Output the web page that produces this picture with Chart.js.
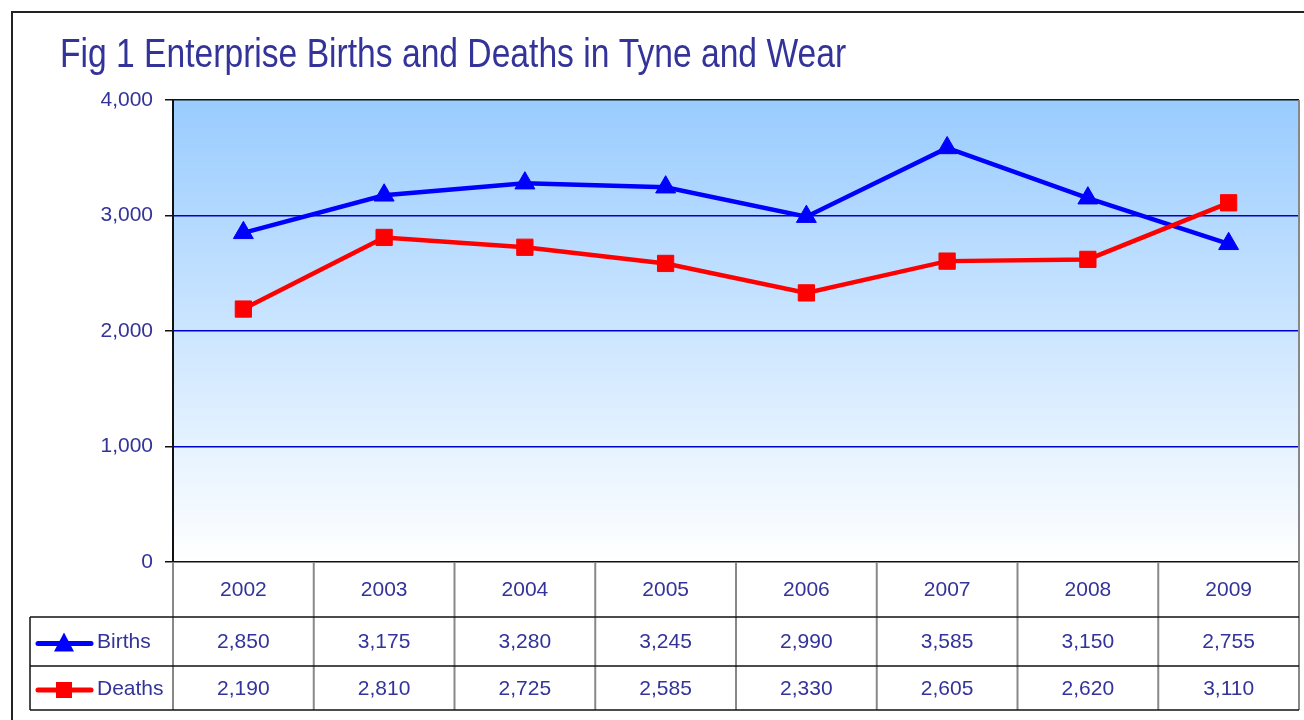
<!DOCTYPE html>
<html>
<head>
<meta charset="utf-8">
<title>Fig 1 Enterprise Births and Deaths in Tyne and Wear</title>
<script src="https://cdn.jsdelivr.net/npm/chart.js@4.4.1/dist/chart.umd.min.js"></script>
<style>
    html, body { margin: 0; padding: 0; background: #fff; }
    canvas { display: block; }
</style>
</head>
<body>
<canvas id="tyneWearChart" width="1304" height="720"></canvas>
<script>
// 数据
const years = ['2002', '2003', '2004', '2005', '2006', '2007', '2008', '2009'];
const births = [2850, 3175, 3280, 3245, 2990, 3585, 3150, 2755];
const deaths = [2190, 2810, 2725, 2585, 2330, 2605, 2620, 3110];
const yTicks = [0, 1000, 2000, 3000, 4000];
const chartTitle = 'Fig 1 Enterprise Births and Deaths in Tyne and Wear';

const textColor = '#333399';
const baseFont = '"Liberation Sans", Arial, sans-serif';

function fmt(v) {
    return v.toLocaleString('en-US');
}

// 背景 + 渐变 + 外框 + 标题
const backdropPlugin = {
    id: 'backdrop',
    beforeDraw(chart) {
        const { ctx, chartArea: a } = chart;
        ctx.save();
        ctx.fillStyle = '#fff';
        ctx.fillRect(0, 0, chart.width, chart.height);

        const grad = ctx.createLinearGradient(0, a.top, 0, a.bottom);
        grad.addColorStop(0, '#99ccff');
        grad.addColorStop(1, '#ffffff');
        ctx.fillStyle = grad;
        ctx.fillRect(a.left, a.top, a.right - a.left, a.bottom - a.top);
        ctx.restore();
    },
    afterDraw(chart) {
        const { ctx } = chart;
        ctx.save();
        // 外框 (上, 左)
        ctx.strokeStyle = '#222';
        ctx.lineWidth = 2;
        ctx.beginPath();
        ctx.moveTo(12, chart.height);
        ctx.lineTo(12, 12);
        ctx.lineTo(chart.width, 12);
        ctx.stroke();

        // 标题 (窄体)
        ctx.fillStyle = textColor;
        ctx.font = '41px ' + baseFont;
        ctx.textBaseline = 'alphabetic';
        ctx.translate(60, 67);
        ctx.scale(0.82, 1);
        ctx.fillText(chartTitle, 0, 0);
        ctx.restore();
    }
};

// 数据表
const dataTablePlugin = {
    id: 'dataTable',
    afterDraw(chart) {
        const { ctx, chartArea: a } = chart;
        const xScale = chart.scales.x;
        const colW = (a.right - a.left) / years.length;
        const rowCat = a.bottom + 55;
        const rowMid = rowCat + 49;
        const rowEnd = rowMid + 44;
        const tableLeft = 30;

        ctx.save();
        // 灰色竖线
        ctx.strokeStyle = '#888';
        ctx.lineWidth = 2;
        for (let i = 1; i <= years.length; i++) {
            const x = a.left + i * colW;
            ctx.beginPath();
            ctx.moveTo(x, a.bottom);
            ctx.lineTo(x, rowEnd);
            ctx.stroke();
        }
        // 右侧绘图区边框
        ctx.beginPath();
        ctx.moveTo(a.right, a.top);
        ctx.lineTo(a.right, a.bottom);
        ctx.stroke();

        ctx.beginPath();
        ctx.moveTo(a.left, a.bottom);
        ctx.lineTo(a.left, rowEnd);
        ctx.stroke();

        // 黑色横线
        ctx.strokeStyle = '#111';
        ctx.lineWidth = 1.5;
        [rowCat, rowMid, rowEnd].forEach(y => {
            ctx.beginPath();
            ctx.moveTo(tableLeft, y);
            ctx.lineTo(a.right, y);
            ctx.stroke();
        });
        ctx.beginPath();
        ctx.moveTo(tableLeft, rowCat);
        ctx.lineTo(tableLeft, rowEnd);
        ctx.stroke();

        // 文本
        ctx.fillStyle = textColor;
        ctx.font = '21px ' + baseFont;
        ctx.textAlign = 'center';
        ctx.textBaseline = 'middle';
        years.forEach((yr, i) => {
            const x = xScale.getPixelForValue(i);
            ctx.fillText(yr, x, (a.bottom + rowCat) / 2 + 1);
            ctx.fillText(fmt(births[i]), x, (rowCat + rowMid) / 2 + 1);
            ctx.fillText(fmt(deaths[i]), x, (rowMid + rowEnd) / 2 + 1);
        });

        // 图例符号
        const rows = [
            { label: 'Births', color: '#0000ff', y: (rowCat + rowMid) / 2 + 2, shape: 'triangle' },
            { label: 'Deaths', color: '#ff0000', y: (rowMid + rowEnd) / 2 + 2, shape: 'rect' }
        ];
        rows.forEach(r => {
            ctx.strokeStyle = r.color;
            ctx.fillStyle = r.color;
            ctx.lineWidth = 5;
            ctx.lineCap = 'round';
            ctx.beginPath();
            ctx.moveTo(38, r.y);
            ctx.lineTo(91, r.y);
            ctx.stroke();
            const cx = 64;
            ctx.beginPath();
            if (r.shape === 'triangle') {
                ctx.moveTo(cx, r.y - 11);
                ctx.lineTo(cx + 10, r.y + 8);
                ctx.lineTo(cx - 10, r.y + 8);
                ctx.closePath();
            } else {
                ctx.rect(cx - 8, r.y - 8, 16, 16);
            }
            ctx.fill();

            ctx.fillStyle = textColor;
            ctx.textAlign = 'left';
            ctx.fillText(r.label, 97, r.y - 1);
        });
        ctx.restore();
    }
};

const ctx = document.getElementById('tyneWearChart').getContext('2d');
const chart = new Chart(ctx, {
    type: 'line',
    data: {
        labels: years,
        datasets: [
            {
                label: 'Births',
                data: births,
                borderColor: '#0000ff',
                backgroundColor: '#0000ff',
                borderWidth: 4.5,
                pointStyle: 'triangle',
                pointRadius: 11.5,
                pointBorderWidth: 1,
                tension: 0,
                order: 1
            },
            {
                label: 'Deaths',
                data: deaths,
                borderColor: '#ff0000',
                backgroundColor: '#ff0000',
                borderWidth: 4.5,
                pointStyle: 'rect',
                pointRadius: 11.5,
                pointBorderWidth: 1,
                tension: 0,
                order: 0
            }
        ]
    },
    options: {
        responsive: false,
        animation: false,
        layout: {
            autoPadding: false,
            padding: { left: 0, top: 100, right: 5, bottom: 158 }
        },
        plugins: {
            legend: { display: false },
            title: { display: false },
            tooltip: { enabled: false }
        },
        scales: {
            x: {
                display: false,
                offset: true
            },
            y: {
                min: yTicks[0],
                max: yTicks[yTicks.length - 1],
                afterFit(scale) {
                    scale.width = 173;
                },
                afterBuildTicks(scale) {
                    scale.ticks = yTicks.map(v => ({ value: v }));
                },
                ticks: {
                    color: textColor,
                    font: { family: baseFont, size: 21 },
                    padding: 12,
                    callback: v => fmt(v)
                },
                grid: {
                    color: c => (c.tick.value === 0 || c.tick.value === 4000) ? '#111' : '#0000cc',
                    lineWidth: 1.5,
                    tickColor: '#111',
                    tickLength: 8
                },
                border: {
                    display: true,
                    color: '#111',
                    width: 2
                }
            }
        }
    },
    plugins: [backdropPlugin, dataTablePlugin]
});
</script>
</body>
</html>
